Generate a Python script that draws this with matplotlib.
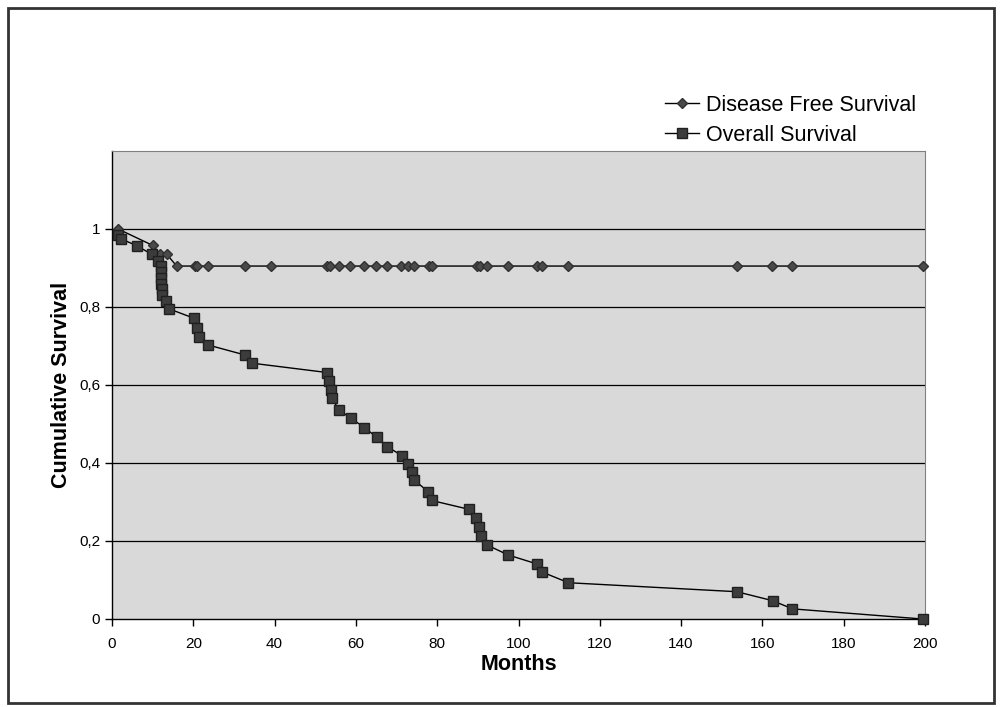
import matplotlib
import numpy as np

matplotlib.use("Agg")
import matplotlib.pyplot as plt
from matplotlib.patches import Rectangle

plt.rcParams["font.family"] = ["Liberation Sans", "DejaVu Sans"]

# Disease free survival
dfs_months = [1.5, 10.0, 11.9, 13.5, 15.9, 20.3, 21.0, 23.5, 32.7, 39.1,
              52.9, 53.6, 55.8, 58.5, 62.0, 64.9, 67.7, 71.1, 72.8, 74.3,
              78.0, 78.7, 89.8, 90.5, 92.3, 97.4, 104.6, 105.8, 112.2,
              153.8, 162.4, 167.3, 199.5]
dfs_values = [1.0, 0.958, 0.935, 0.935] + [0.905] * 29

# Overall survival
os_months = [1.5, 2.2, 6.1, 9.8, 11.3, 12.0, 12.0, 12.0, 12.0, 12.2, 12.4,
             13.3, 14.1, 20.2, 20.8, 21.5, 23.5, 32.7, 34.4,
             52.9, 53.5, 53.8, 54.0, 55.9, 58.7, 62.1, 65.1, 67.7, 71.3,
             72.9, 73.7, 74.4, 77.8, 78.6, 87.9, 89.5, 90.4, 90.7, 92.2,
             97.5, 104.6, 105.9, 112.3, 153.7, 162.5, 167.4, 199.4]
os_values = [0.985, 0.975, 0.957, 0.935, 0.918, 0.905, 0.89, 0.875, 0.86,
             0.845, 0.83, 0.815, 0.795, 0.771, 0.745, 0.724, 0.703, 0.677,
             0.656, 0.632, 0.609, 0.587, 0.566, 0.536, 0.515, 0.491, 0.466,
             0.442, 0.419, 0.397, 0.378, 0.356, 0.326, 0.304, 0.281, 0.258,
             0.237, 0.213, 0.190, 0.164, 0.141, 0.120, 0.093, 0.070, 0.047,
             0.026, 0.0]

x_ticks = np.arange(0, 201, 20)
y_ticks = [0, 0.2, 0.4, 0.6, 0.8, 1.0]
y_labels = ["0", "0,2", "0,4", "0,6", "0,8", "1"]

W, H = 1001, 707
fig = plt.figure(figsize=(W / 100, H / 100), dpi=100)
fig.patches.append(Rectangle((8 / W, 4 / H), 986 / W, 695 / H,
                             transform=fig.transFigure, fill=False,
                             edgecolor="#333333", linewidth=2))

ax = fig.add_axes([112 / W, (H - 619) / H, (925 - 112) / W, (619 - 151) / H])
ax.set_facecolor("#d9d9d9")
ax.set_xlim(0, 200)
ax.set_ylim(0, 1.2)

for y in y_ticks[1:]:
    ax.axhline(y, color="black", linewidth=0.9, zorder=1)

ax.plot(dfs_months, dfs_values, color="black", linewidth=1, marker="D",
        markersize=5, markerfacecolor="#4a4a4a", markeredgecolor="#303030",
        label="Disease Free Survival", zorder=3, clip_on=False)
ax.plot(os_months, os_values, color="black", linewidth=1, marker="s",
        markersize=7, markerfacecolor="#3c3c3c", markeredgecolor="#202020",
        label="Overall Survival", zorder=4, clip_on=False)

ax.set_xticks(x_ticks)
ax.set_yticks(y_ticks, y_labels)
ax.tick_params(direction="out", length=5, width=1, labelsize=11, colors="black")
ax.tick_params(axis="x", pad=8)
for side in ("top", "right"):
    ax.spines[side].set_color("#808080")
    ax.spines[side].set_linewidth(0.8)
for side in ("left", "bottom"):
    ax.spines[side].set_color("black")
    ax.spines[side].set_linewidth(1)

ax.set_xlabel("Months", fontsize=15.5, fontweight="bold", labelpad=2)
ax.set_ylabel("Cumulative Survival", fontsize=15.5, fontweight="bold", labelpad=5)

fig.legend(loc="upper left", bbox_to_anchor=(665 / W, 1 - 95 / H),
           frameon=False, fontsize=15.5, handlelength=1.6, labelspacing=0.4,
           handletextpad=0.3, borderaxespad=0, borderpad=0)

fig.savefig("out.png", dpi=100)
